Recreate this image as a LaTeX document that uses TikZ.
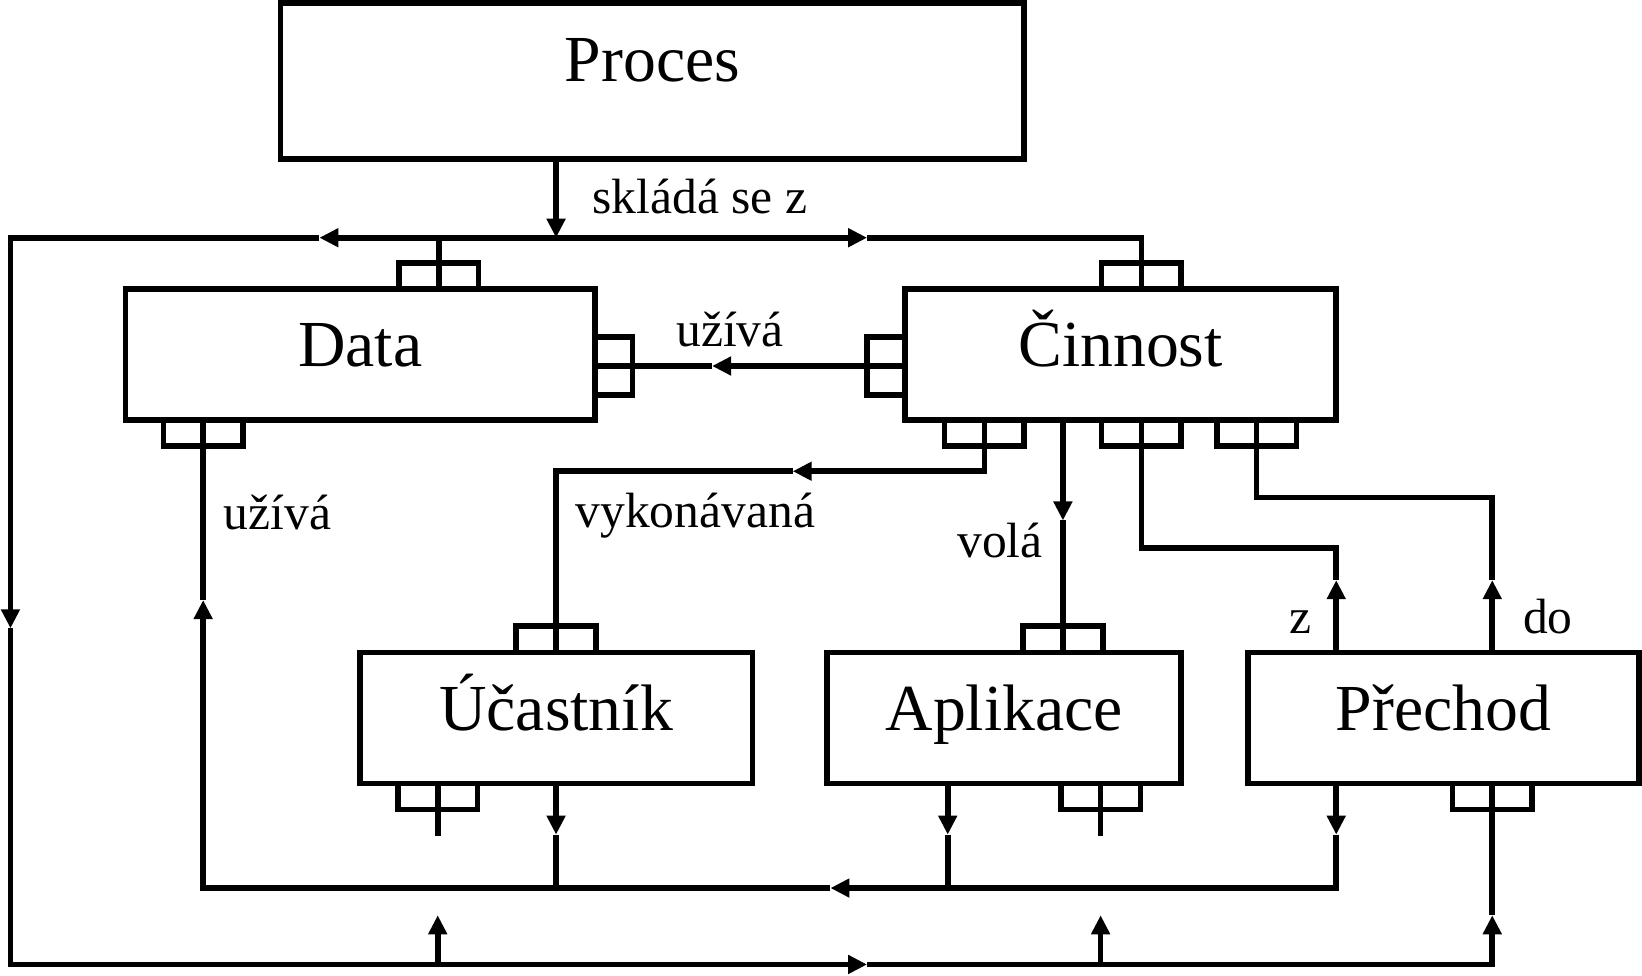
\documentclass[tikz,border=0pt]{standalone}
\usepackage{fontspec}
\setmainfont{Liberation Serif}
\usetikzlibrary{arrows.meta}
\newcommand{\unitpx}{0.10472mm}

\tikzset{
  box/.style={draw, rectangle, inner sep=0pt, outer sep=0pt, minimum height=125*\unitpx,
    text height=4.4mm, text depth=1.9mm, font=\fontsize{18.7}{22}\selectfont},
  port/.style={draw, rectangle, inner sep=0pt, outer sep=0pt, minimum width=76*\unitpx, minimum height=25*\unitpx},
  sideport/.style={draw, rectangle, inner sep=0pt, outer sep=0pt, minimum width=36*\unitpx, minimum height=55*\unitpx},
  lbl/.style={font=\fontsize{14.1}{17}\selectfont, inner sep=0pt, anchor=base},
}

\begin{document}
\begin{tikzpicture}[x=\unitpx, y=-\unitpx, line width=1.6pt, >={Triangle[length=1.9mm,width=1.8mm]}]
\useasboundingbox (0,0) rectangle (1568,932);

            % Boxes
            \node[box, minimum width=710*\unitpx, minimum height=149*\unitpx, text depth=4.4mm] (proces) at (623,77.5) {Proces};
            \node[box, minimum width=448*\unitpx] (data) at (344,338.5) {Data};
            \node[box, minimum width=412*\unitpx] (cinnost) at (1070,338.5) {Činnost};
            \node[box, minimum width=375*\unitpx] (ucastnik) at (531,685.5) {Účastník};
            \node[box, minimum width=338*\unitpx] (aplikace) at (959,685.5) {Aplikace};
            \node[box, minimum width=373*\unitpx] (prechod) at (1378.5,685.5) {Přechod};

            % Ports
            \node[port] (dtop) at (419,263.5) {};
            \node[port] (dbot) at (194,413.5) {};
            \node[sideport] (dright) at (586,349.5) {};
            \node[port] (ctop) at (1090,263.5) {};
            \node[sideport] (cleft) at (846,349.5) {};
            \node[port] (cbot1) at (940,413.5) {};
            \node[port] (cbot3) at (1090,413.5) {};
            \node[port] (cbot4) at (1200,413.5) {};
            \node[port] (utop) at (531,610.5) {};
            \node[port] (ubot) at (418,760.5) {};
            \node[port] (atop) at (1015,610.5) {};
            \node[port] (abot) at (1051,760.5) {};
            \node[port] (pbot) at (1425,760.5) {};

            % Bends and arrow points
            \coordinate (tm) at (531,227);
            \coordinate (tl) at (10,227);
            \coordinate (tr) at (1090,227);
            \coordinate (t1) at (305,227);
            \coordinate (t2) at (828,227);
            \coordinate (l1) at (10,600);
            \coordinate (bl) at (10,921);
            \coordinate (b1) at (828,921);
            \coordinate (br) at (1425,921);
            \coordinate (b2) at (418,874);
            \coordinate (b3) at (1051,874);
            \coordinate (b4) at (1425,874);
            \coordinate (g1) at (418,798);
            \coordinate (g2) at (1051,798);
            \coordinate (ml) at (194,848);
            \coordinate (mr) at (1276,848);
            \coordinate (m1) at (793,848);
            \coordinate (m2) at (194,573);
            \coordinate (ua) at (531,797);
            \coordinate (aa) at (905,797);
            \coordinate (pa) at (1276,797);
            \coordinate (u1) at (680,349.5);
            \coordinate (k1) at (757,450);
            \coordinate (v1) at (1015,497);
            \coordinate (z1) at (1276,554);
            \coordinate (z2) at (1276,523);
            \coordinate (d1) at (1425,554);
            \coordinate (d2) at (1425,475);

            % skládá se z
            \draw[->] (tm |- proces.south) -- (tm);
            \draw[->] (tm) -- (t1);
            \draw[->] (t1) -- (tl) -- (l1);
            \draw[->] (l1) -- (bl) -- (b1);
            \draw[->] (b1) -- (br) -- (b4);
            \draw (pbot.north) -- (b4);
            \draw[->] (b2 |- bl) -- (b2);
            \draw (ubot.north) -- (g1);
            \draw[->] (b3 |- bl) -- (b3);
            \draw (abot.north) -- (g2);
            \draw[->] (tm) -- (t2);
            \draw (t2) -- (tr) -- (ctop.south);
            \draw (dtop.south) -- (dtop.south |- tm);

            % užívá
            \draw[->] (ucastnik.south) -- (ua);
            \draw (ua) -- (ua |- mr);
            \draw[->] (aa |- aplikace.south) -- (aa);
            \draw (aa) -- (aa |- mr);
            \draw[->] (pa |- prechod.south) -- (pa);
            \draw[->] (pa) -- (mr) -- (m1);
            \draw[->] (m1) -- (ml) -- (m2);
            \draw (dbot.north) -- (m2);
            \draw[->] (cleft.east) -- (u1);
            \draw (u1) -- (dright.west);

            % Činnost
            \draw[->] (cbot1.north) |- (k1);
            \draw (k1) -| (utop.south);
            \draw[->] (v1 |- cinnost.south) -- (v1);
            \draw (v1) -- (atop.south);
            \draw[->] (z1 |- prechod.north) -- (z1);
            \draw (z1) -- (z2) -| (cbot3.north);
            \draw[->] (d1 |- prechod.north) -- (d1);
            \draw (d1) -- (d2) -| (cbot4.north);

            % Labels
            \node[lbl, anchor=base west] (lsklada) at (563,204) {skládá se z};
            \node[lbl] (luziva1) at (697,331) {užívá};
            \node[lbl] (luziva2) at (265,506) {užívá};
            \node[lbl] (lvykon) at (664,504) {vykonávaná};
            \node[lbl] (lvola) at (955,532) {volá};
            \node[lbl] (lz) at (1242,605) {z};
            \node[lbl] (ldo) at (1478,605) {do};

\end{tikzpicture}
\end{document}
